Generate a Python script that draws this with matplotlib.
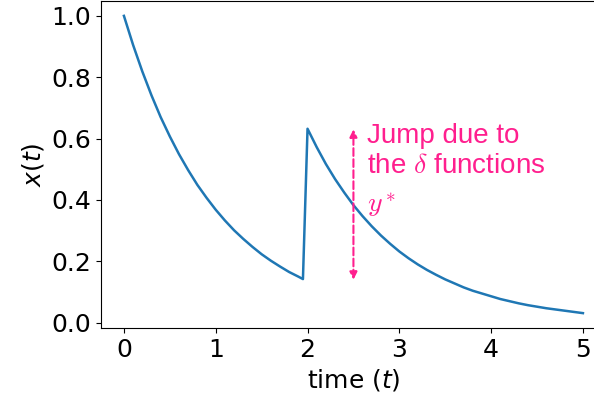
import matplotlib
matplotlib.use('Agg')
import matplotlib.pyplot as plt

# curve: decay, then a jump at t=2
t = [0.0, 0.1, 0.2, 0.3, 0.4, 0.5, 0.6, 0.7, 0.8, 0.9,
     1.0, 1.1, 1.2, 1.3, 1.4, 1.5, 1.6, 1.7, 1.8, 1.9, 1.95,
     2.0, 2.1, 2.2, 2.3, 2.4, 2.5, 2.6, 2.7, 2.8, 2.9,
     3.0, 3.1, 3.2, 3.3, 3.4, 3.5, 3.6, 3.7, 3.8, 3.9,
     4.0, 4.1, 4.2, 4.3, 4.4, 4.5, 4.6, 4.7, 4.8, 4.9, 5.0]
x = [1.000, 0.905, 0.819, 0.741, 0.670, 0.607, 0.549, 0.497, 0.449, 0.407,
     0.368, 0.333, 0.301, 0.273, 0.247, 0.223, 0.202, 0.183, 0.165, 0.150, 0.142,
     0.632, 0.572, 0.517, 0.468, 0.424, 0.383, 0.347, 0.314, 0.284, 0.257,
     0.232, 0.210, 0.190, 0.172, 0.156, 0.141, 0.128, 0.115, 0.104, 0.095,
     0.086, 0.077, 0.070, 0.063, 0.057, 0.052, 0.047, 0.043, 0.039, 0.035, 0.031]

jump_t = 2.5
jump_low = 0.14
jump_high = 0.63
pink = '#ff1f8e'

fig = plt.figure(figsize=(5.94, 4.0), dpi=100)
ax = fig.add_axes([0.170, 0.18, 0.850, 0.8175])
ax.plot(t, x, color='C0', lw=1.8)

ax.annotate('', xy=(jump_t, jump_high), xytext=(jump_t, jump_low),
            arrowprops=dict(arrowstyle='<|-|>', color=pink, ls='--', lw=1.5,
                            mutation_scale=11, shrinkA=0, shrinkB=0))
ax.text(2.65, 0.56, 'Jump due to\nthe $\\delta$ functions', color=pink,
        fontsize=20, family='Liberation Sans', math_fontfamily='cm',
        va='center', ha='left', linespacing=1.2)
ax.text(2.65, 0.385, '$y^*$', color=pink, fontsize=20,
        math_fontfamily='cm', va='center', ha='left')

ax.set_xlabel('time ($t$)', fontsize=18)
ax.set_ylabel('$x(t)$', fontsize=18)
ax.tick_params(labelsize=18)

fig.savefig('out.png', dpi=100)
